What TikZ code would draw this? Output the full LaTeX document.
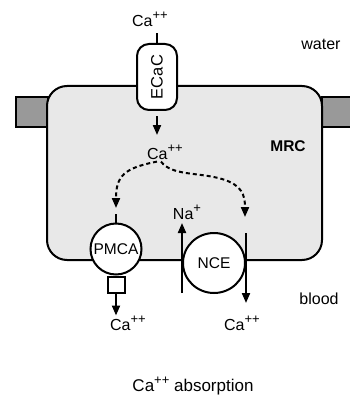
\documentclass[tikz,border=0pt]{standalone}
\usepackage{fontspec}
\setmainfont{Liberation Sans}
\usetikzlibrary{arrows.meta,positioning,calc,shapes.geometric}
\newcommand\ionsup[1]{\raisebox{0.85ex}{\fontsize{13}{13}\selectfont #1}}

\begin{document}
\begin{tikzpicture}[
  x=1pt, y=-1pt,
  lbl/.style={font=\fontsize{16}{18}\selectfont, inner sep=0pt},
  cell/.style={draw, line width=2pt, fill=gray!18, rounded corners=20pt, minimum width=275pt, minimum height=174pt},
  junction/.style={draw, line width=2pt, fill=gray!80, minimum width=32pt, minimum height=30pt},
  channel/.style={draw, line width=2pt, fill=white, rounded corners=12pt, minimum width=40pt, minimum height=66pt, font=\fontsize{16.5}{18}\selectfont},
  pump/.style={draw, line width=2pt, fill=white, circle, minimum size=51pt, inner sep=0pt, font=\fontsize{15.5}{17}\selectfont},
  exch/.style={draw, line width=2pt, fill=white, ellipse, minimum width=62pt, minimum height=60pt, inner sep=0pt, font=\fontsize{15.5}{17}\selectfont},
  arr/.style={-{Triangle[length=10pt,width=8pt]}, line width=2pt},
  dasharr/.style={arr, dash pattern=on 4pt off 3pt},
]
\useasboundingbox (0,0) rectangle (350,401);

% Tight junctions and cell
\node[junction] (tjl) at (32,112) {};
\node[junction] (tjr) at (338,112) {};
\node[cell] (cell) at (184.5,173) {};
\node[font=\fontsize{15.5}{17}\selectfont\bfseries] (mrc) at (288,146) {MRC};

% Apical channel
\node[channel] (ecac) at (157,77) {\rotatebox{90}{ECaC}};
\node[lbl] (cawater) at (150,19) {Ca\ionsup{++}};
\draw[line width=2pt] (ecac.north) -- ++(0,-10);
\draw[arr] ([yshift=-5pt]ecac.south) -- ++(0,19);
\node[lbl] (cain) at (165,152) {Ca\ionsup{++}};

% Basolateral transporters
\node[pump] (pmca) at (116,249) {PMCA};
\draw[line width=2pt] (pmca.north) -- ++(0,-9);
\node[draw, line width=2pt, fill=white, minimum width=17pt, minimum height=16pt, inner sep=0pt, anchor=north] (pbox) at (pmca.south) {};
\draw[arr] (pbox.south) -- ++(0,22);
\node[lbl] (capmca) at (128,323) {Ca\ionsup{++}};

\node[exch] (nce) at (214,263) {NCE};
\draw[arr] ([yshift=-30pt]nce.west) -- ([yshift=40pt]nce.west);
\draw[arr] ([yshift=30pt]nce.east) -- ([yshift=-40pt]nce.east);
\node[lbl] (na) at (187,212) {Na\ionsup{+}};
\node[lbl] (cance) at (242,323) {Ca\ionsup{++}};

% Intracellular routes
\coordinate (pin) at (116,208);
\coordinate (nin) at (245,217);
\draw[dasharr] ([xshift=-8pt,yshift=-2pt]cain.south) .. controls (124,168) and (116,176) .. (pin);
\draw[dasharr] ([xshift=-4pt,yshift=-2pt]cain.south) .. controls (172,176) and (198,172) .. (222,179) .. controls (242,185) and (245,195) .. (nin);

% Compartments
\node[lbl] (water) at (321,44) {water};
\node[lbl] (blood) at (319,299) {blood};
\node[font=\fontsize{17}{19}\selectfont, inner sep=0pt] (title) at (193,386) {Ca\ionsup{++} absorption};

\end{tikzpicture}
\end{document}
